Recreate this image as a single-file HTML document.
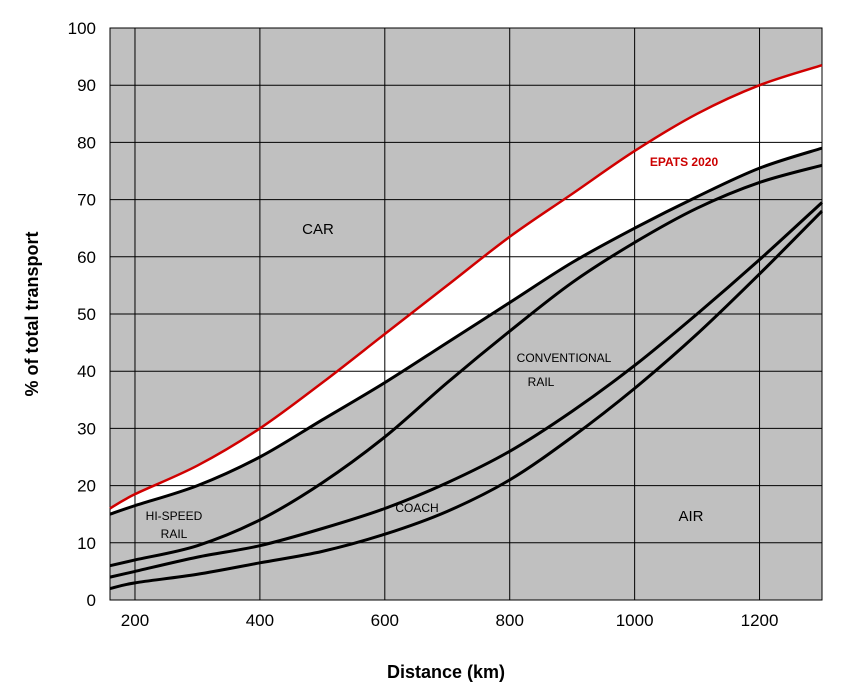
<!DOCTYPE html>
<html><head><meta charset="utf-8"><style>
body{margin:0;background:#fff;}
svg text{font-family:"Liberation Sans",Arial,sans-serif;}
</style></head><body>
<svg id="chart" width="853" height="694" viewBox="0 0 853 694"></svg>
<script>
const distances=[160,200,300,400,500,600,700,800,900,1000,1100,1200,1300];
const epats2020=[16,18.5,23.5,30,38,46.5,55,63.5,71,78.5,85,90,93.5];
const carBoundary=[15,16.5,20,25,31.5,38,45,52,59,65,70.5,75.5,79];
const convRailBoundary=[6,7,9.5,14,20.5,28.5,38,47,55.5,62.5,68.5,73,76];
const coachBoundary=[4,5,7.5,9.5,12.5,16,20.5,26,33,41,50,59.5,69.5];
const airBoundary=[2,3,4.5,6.5,8.5,11.5,15.5,21,28.5,37,46.5,57,68];
const xTicks=[200,400,600,800,1000,1200];
const yTicks=[0,10,20,30,40,50,60,70,80,90,100];

const NS='http://www.w3.org/2000/svg';
const chartSvg=document.getElementById('chart');
const X0=110,X1=822,Y0=600,Y1=28;
const xs=v=>X0+(v-160)/(1300-160)*(X1-X0);
const ys=v=>Y0-v/100*(Y0-Y1);
function mk(tag,attrs,parent){const e=document.createElementNS(NS,tag);for(const k in attrs)e.setAttribute(k,attrs[k]);(parent||chartSvg).appendChild(e);return e;}
function pts(arr){return distances.map((d,i)=>[xs(d),ys(arr[i])]);}
function curve(p,move){let s=(move?'M':'L')+p[0][0]+','+p[0][1];
 for(let i=0;i<p.length-1;i++){const a=p[i-1]||p[i],b=p[i],c=p[i+1],d=p[i+2]||c;
  s+=' C'+(b[0]+(c[0]-a[0])/6)+','+(b[1]+(c[1]-a[1])/6)+' '+(c[0]-(d[0]-b[0])/6)+','+(c[1]-(d[1]-b[1])/6)+' '+c[0]+','+c[1];}
 return s;}

let bg=mk('rect',{x:X0,y:Y1,width:X1-X0,height:Y0-Y1,fill:'#c0c0c0'});


const bandTop=pts(epats2020),bandBot=pts(carBoundary).reverse();
let band=mk('path',{d:curve(bandTop,true)+' '+curve(bandBot,false)+' Z',fill:'#fff'});


yTicks.forEach(t=>{let l=mk('line',{x1:X0,x2:X1,y1:ys(t),y2:ys(t),stroke:'#000','stroke-width':1});
 
 
 let tx=mk('text',{x:X0-14,y:ys(t)+6,'text-anchor':'end','font-size':17});tx.textContent=t;
 
 });
xTicks.forEach(t=>{let l=mk('line',{x1:xs(t),x2:xs(t),y1:Y1,y2:Y0,stroke:'#000','stroke-width':1});
 
 
 let tx=mk('text',{x:xs(t),y:Y0+26,'text-anchor':'middle','font-size':17});tx.textContent=t;
 
 });
let fr=mk('rect',{x:X0,y:Y1,width:X1-X0,height:Y0-Y1,fill:'none',stroke:'#000'});


[[carBoundary,'car-boundary-line'],[convRailBoundary,'conventional-rail-line'],[coachBoundary,'coach-line'],[airBoundary,'air-line']].forEach(([a,n])=>{
 let p=mk('path',{d:curve(pts(a),true),fill:'none',stroke:'#000','stroke-width':3});
 
 });
let red=mk('path',{d:curve(pts(epats2020),true),fill:'none',stroke:'#d00000','stroke-width':2.5});


const labels=[['CAR',318,234,'#000','car-label'],['EPATS 2020',684,166,'#cc0000','epats-label'],['CONVENTIONAL',564,362,'#000','conventional-label'],['RAIL',541,386,'#000','rail-label'],['HI-SPEED',174,520,'#000','hi-speed-label'],['RAIL',174,538,'#000','hi-speed-rail-label'],['COACH',417,512,'#000','coach-label'],['AIR',691,521,'#000','air-label']];
labels.forEach(([t,x,y,c,n])=>{let e=mk('text',{x:x,y:y,'text-anchor':'middle','font-size':(t==='CAR'||t==='AIR')?15:12,'font-weight':t==='EPATS 2020'?'bold':'normal',fill:c});e.textContent=t;
 
 });
let xt=mk('text',{x:446,y:678,'text-anchor':'middle','font-size':18,'font-weight':'bold'});xt.textContent='Distance (km)';


let yt=mk('text',{x:38,y:314,'text-anchor':'middle','font-size':18,'font-weight':'bold',transform:'rotate(-90 38 314)'});yt.textContent='% of total transport';


</script>
</body></html>
